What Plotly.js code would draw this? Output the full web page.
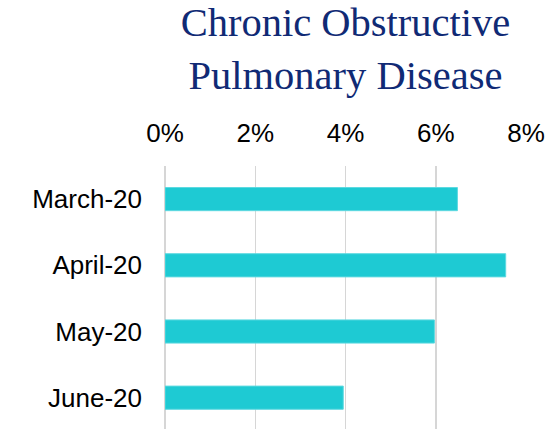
<!DOCTYPE html>
<html>
<head>
<meta charset="utf-8">
<script src="https://cdn.plot.ly/plotly-3.0.1.min.js"></script>
<style>html,body{margin:0;padding:0;background:#fff;}#chart{width:554px;height:429px;}</style>
</head>
<body>
<div id="chart"></div>
<script>
var categories = ["March-20", "April-20", "May-20", "June-20"];
var values = [0.0648, 0.0755, 0.0597, 0.0395];
var tickVals = [0, 0.02, 0.04, 0.06, 0.08];
var tickLabels = ["0%", "2%", "4%", "6%", "8%"];
var chartTitle = "Chronic Obstructive<br>Pulmonary Disease";

var trace = {
  type: "bar",
  orientation: "h",
  y: categories,
  x: values,
  marker: {color: "#1ECAD3", line: {color: "#5DD9E0", width: 1}},
  hoverinfo: "x+y"
};

var layout = {
  width: 554,
  height: 429,
  margin: {l: 165, r: 28, t: 166, b: 0},
  paper_bgcolor: "#ffffff",
  plot_bgcolor: "#ffffff",
  showlegend: false,
  bargap: 0.65,
  title: {
    text: chartTitle,
    font: {family: "Liberation Serif, Times New Roman, serif", size: 40.5, color: "#102A75"},
    x: 0.5, xref: "paper", xanchor: "center",
    y: 0.916, yref: "container", yanchor: "top"
  },
  xaxis: {
    side: "top",
    range: [0, 0.08],
    tickvals: tickVals,
    ticktext: tickLabels,
    showgrid: true,
    gridcolor: "#d6d6d6",
    gridwidth: 1.5,
    zeroline: true,
    zerolinecolor: "#d6d6d6",
    zerolinewidth: 1.5,
    showline: false,
    ticks: "",
    ticklabelstandoff: 18,
    tickfont: {family: "Liberation Sans, Arial, sans-serif", size: 26, color: "#000000"},
    fixedrange: true
  },
  yaxis: {
    type: "category",
    range: [3.473, -0.5],
    showgrid: false,
    zeroline: false,
    showline: false,
    ticks: "",
    ticklabelstandoff: 22,
    tickfont: {family: "Liberation Sans, Arial, sans-serif", size: 26, color: "#000000"},
    fixedrange: true
  }
};

Plotly.newPlot("chart", [trace], layout, {displayModeBar: false, staticPlot: true});
</script>
</body>
</html>
